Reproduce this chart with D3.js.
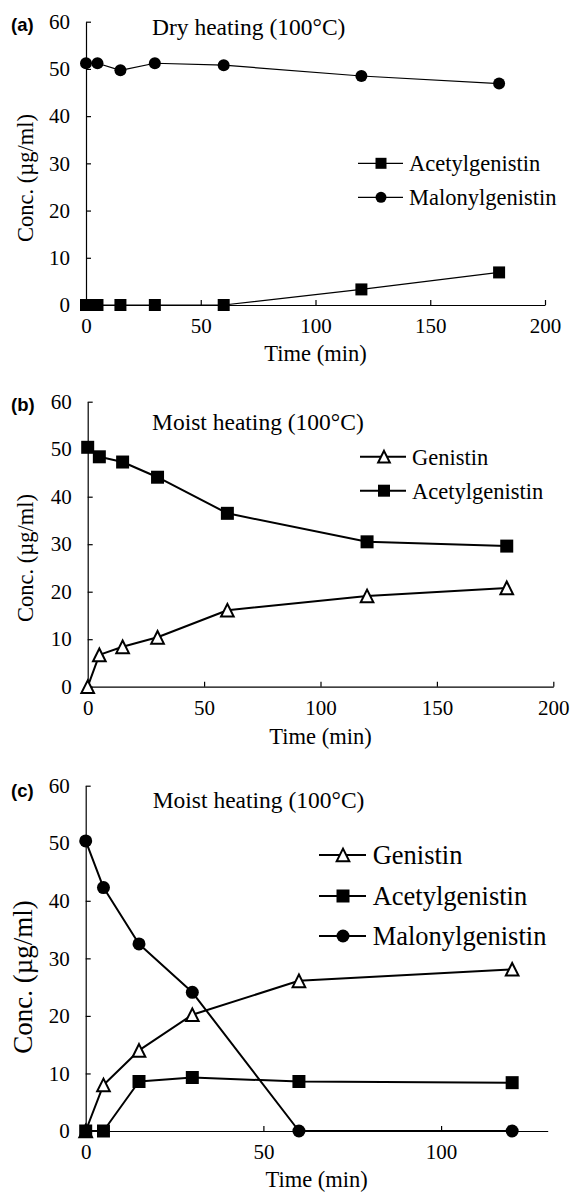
<!DOCTYPE html>
<html>
<head>
<meta charset="utf-8">
<script src="https://cdn.jsdelivr.net/npm/d3@7"></script>
<style>
  html, body { margin: 0; padding: 0; background: #fff; }
  svg { display: block; }
  text { font-family: "Liberation Serif", "Times New Roman", serif; fill: #000; }
  .plabel { font-family: "Liberation Sans", Arial, sans-serif; font-weight: bold; }
</style>
</head>
<body>
<svg id="chart" width="571" height="1195"></svg>
<script>
// ---------------- DATA ----------------
const timeA = [0, 5, 15, 30, 60, 120, 180];
const acetylA = [0, 0, 0, 0, 0, 3.3, 6.9];
const malonylA = [51.2, 51.2, 49.7, 51.2, 50.8, 48.5, 46.9];

const timeB = [0, 5, 15, 30, 60, 120, 180];
const genistinB = [0, 6.7, 8.4, 10.4, 16.1, 19.1, 20.8];
const acetylB = [50.4, 48.4, 47.3, 44.1, 36.5, 30.5, 29.6];

const timeC = [0, 5, 15, 30, 60, 120];
const genistinC = [0, 8.0, 14.0, 20.2, 26.1, 28.1];
const acetylC = [0, 0, 8.6, 9.3, 8.6, 8.4];
const malonylC = [50.4, 42.3, 32.5, 24.1, 0, 0];

const yTicks = [0, 10, 20, 30, 40, 50, 60];
const xTicksAB = [0, 50, 100, 150, 200];
const xTicksC = [0, 50, 100];

const panelLabels = ["(a)", "(b)", "(c)"];
const panelTitles = ["Dry heating (100\u00B0C)", "Moist heating (100\u00B0C)", "Moist heating (100\u00B0C)"];
const yAxisTitle = "Conc. (\u00B5g/ml)";
const xAxisTitle = "Time (min)";

// ---------------- MARKER TYPES ----------------
const triUp = {
  draw(ctx, size) {
    const w = Math.sqrt(size), h = w;
    ctx.moveTo(0, -h / 2);
    ctx.lineTo(w / 2, h / 2);
    ctx.lineTo(-w / 2, h / 2);
    ctx.closePath();
  }
};
const markerStyles = {
  Genistin: { type: triUp, fill: "#fff", sizeAdj: 0.95 },
  Acetylgenistin: { type: d3.symbolSquare, fill: "#000", sizeAdj: 1 },
  Malonylgenistin: { type: d3.symbolCircle, fill: "#000", sizeAdj: Math.PI / 4 }
};

// ---------------- LAYOUT ----------------
const panels = [
  {
    label: panelLabels[0], title: panelTitles[0],
    xDomain: [0, 200], xRange: [86, 545], yRange: [305, 21.7], xTicks: xTicksAB,
    series: [
      { name: "Malonylgenistin", x: timeA, y: malonylA },
      { name: "Acetylgenistin", x: timeA, y: acetylA }
    ],
    legendOrder: ["Acetylgenistin", "Malonylgenistin"],
    lw: 1.2, ms: 12,
    labelPos: [11, 30.7], titlePos: [152, 35], titleSize: 23.5,
    legend: { x1: 358, x2: 403, mx: 381, tx: 409, ys: [163.3, 197.3], size: 22.5, ms: 11 },
    yTitle: { x: 25, y: 178, size: 22.5 }, xTitle: { y: 361, size: 22.5 }
  },
  {
    label: panelLabels[1], title: panelTitles[1],
    xDomain: [0, 200], xRange: [87.7, 553.3], yRange: [686.7, 401.7], xTicks: xTicksAB,
    series: [
      { name: "Genistin", x: timeB, y: genistinB },
      { name: "Acetylgenistin", x: timeB, y: acetylB }
    ],
    legendOrder: ["Genistin", "Acetylgenistin"],
    lw: 2, ms: 13,
    labelPos: [11, 411], titlePos: [152, 430], titleSize: 23.5,
    legend: { x1: 360, x2: 406, mx: 384, tx: 412, ys: [456.7, 490.7], size: 22.5, ms: 12 },
    yTitle: { x: 25, y: 558, size: 22.5 }, xTitle: { y: 744, size: 22.5 }
  },
  {
    label: panelLabels[2], title: panelTitles[2],
    xDomain: [0, 130], xRange: [85.7, 547.7], yRange: [1131, 785.7], xTicks: xTicksC,
    series: [
      { name: "Malonylgenistin", x: timeC, y: malonylC },
      { name: "Genistin", x: timeC, y: genistinC },
      { name: "Acetylgenistin", x: timeC, y: acetylC }
    ],
    legendOrder: ["Genistin", "Acetylgenistin", "Malonylgenistin"],
    lw: 2, ms: 13,
    labelPos: [11, 797], titlePos: [152.7, 808], titleSize: 23.5,
    legend: { x1: 319, x2: 366, mx: 343, tx: 372.7, ys: [855, 896, 936], size: 26.5, ms: 13 },
    yTitle: { x: 23, y: 977, size: 27 }, xTitle: { y: 1187, size: 22.5 }
  }
];

const svg = d3.select("#chart");

function marker(name, ms) {
  const st = markerStyles[name];
  return d3.symbol().type(st.type).size(ms * ms * st.sizeAdj)();
}

panels.forEach(p => {
  const g = svg.append("g");
  const x = d3.scaleLinear().domain(p.xDomain).range(p.xRange);
  const y = d3.scaleLinear().domain([0, 60]).range(p.yRange);

  // axes (inward ticks)
  const xAxis = d3.axisBottom(x).tickValues(p.xTicks).tickSizeInner(-5).tickSizeOuter(0).tickPadding(13).tickFormat(d3.format("d"));
  const yAxis = d3.axisLeft(y).tickValues(yTicks).tickSizeInner(-5).tickSizeOuter(0).tickPadding(16).tickFormat(d3.format("d"));

  const gx = g.append("g").attr("transform", `translate(0,${p.yRange[0]})`).call(xAxis);
  const gy = g.append("g").attr("transform", `translate(${p.xRange[0]},0)`).call(yAxis);
  [gx, gy].forEach(ax => {
    ax.attr("font-family", null);
    ax.selectAll("path.domain").attr("stroke", "#000").attr("stroke-width", 1.2);
    ax.selectAll(".tick line").attr("stroke", "#000").attr("stroke-width", 1.2);
    ax.selectAll(".tick text").attr("font-size", 21).attr("fill", "#000");
  });

  // lines and markers
  p.series.forEach(s => {
    const pts = s.x.map((t, i) => [t, s.y[i]]);
    g.append("path")
      .attr("d", d3.line().x(d => x(d[0])).y(d => y(d[1]))(pts))
      .attr("fill", "none").attr("stroke", "#000").attr("stroke-width", p.lw)
      .attr("stroke-linejoin", "round");
  });
  p.series.forEach(s => {
    const pts = s.x.map((t, i) => [t, s.y[i]]);
    const st = markerStyles[s.name];
    g.append("g").selectAll("path").data(pts).join("path")
      .attr("transform", d => `translate(${x(d[0])},${y(d[1])})`)
      .attr("d", marker(s.name, p.ms))
      .attr("fill", st.fill)
      .attr("stroke", st.fill === "#fff" ? "#000" : "none")
      .attr("stroke-width", 2);
  });

  // legend
  p.legendOrder.forEach((name, i) => {
    const ly = p.legend.ys[i];
    const st = markerStyles[name];
    g.append("line").attr("x1", p.legend.x1).attr("x2", p.legend.x2)
      .attr("y1", ly).attr("y2", ly).attr("stroke", "#000").attr("stroke-width", p.lw);
    g.append("path").attr("transform", `translate(${p.legend.mx},${ly})`)
      .attr("d", marker(name, p.legend.ms))
      .attr("fill", st.fill).attr("stroke", st.fill === "#fff" ? "#000" : "none").attr("stroke-width", 2);
    g.append("text").attr("x", p.legend.tx).attr("y", ly).attr("dy", "0.35em")
      .attr("font-size", p.legend.size).text(name);
  });

  // texts
  g.append("text").attr("class", "plabel").attr("x", p.labelPos[0]).attr("y", p.labelPos[1])
    .attr("font-size", 18.5).text(p.label);
  g.append("text").attr("x", p.titlePos[0]).attr("y", p.titlePos[1])
    .attr("font-size", p.titleSize).text(p.title);
  g.append("text").attr("transform", `translate(${p.yTitle.x},${p.yTitle.y}) rotate(-90)`)
    .attr("text-anchor", "middle").attr("dy", "0.35em")
    .attr("font-size", p.yTitle.size).text(yAxisTitle);
  g.append("text").attr("x", (p.xRange[0] + p.xRange[1]) / 2).attr("y", p.xTitle.y)
    .attr("text-anchor", "middle").attr("font-size", p.xTitle.size).text(xAxisTitle);
});
</script>
</body>
</html>
